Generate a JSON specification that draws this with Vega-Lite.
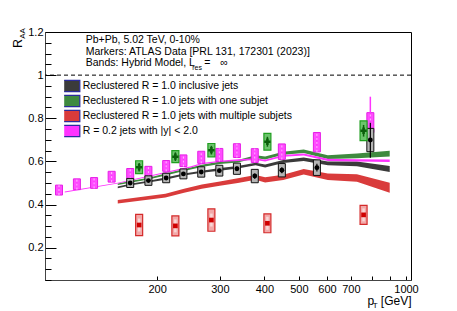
{
  "$schema": "https://vega.github.io/schema/vega-lite/v6.json",
  "width": 366,
  "height": 248,
  "autosize": {"type": "none"},
  "padding": {"left": 45, "top": 32, "right": 46, "bottom": 31},
  "background": "white",
  "config": {
    "view": {"stroke": "#000", "strokeWidth": 1},
    "font": "Liberation Sans",
    "axis": {"labelFont": "Liberation Sans", "titleFont": "Liberation Sans", "labelColor": "#000", "titleColor": "#000", "tickColor": "#000", "domainColor": "#333", "grid": false, "labelFontSize": 11, "titleFontWeight": "normal", "labelFlush": false, "labelOverlap": false}
  },
  "resolve": {"axis": {"x": "independent", "y": "independent"}},
  "datasets": {
    "model": [
      {"s": "Reclustered R = 1.0 multiple", "pT": 155, "lo": 0.405, "hi": 0.421},
      {"s": "Reclustered R = 1.0 multiple", "pT": 211, "lo": 0.432, "hi": 0.450},
      {"s": "Reclustered R = 1.0 multiple", "pT": 238, "lo": 0.455, "hi": 0.473},
      {"s": "Reclustered R = 1.0 multiple", "pT": 267, "lo": 0.473, "hi": 0.493},
      {"s": "Reclustered R = 1.0 multiple", "pT": 300, "lo": 0.487, "hi": 0.507},
      {"s": "Reclustered R = 1.0 multiple", "pT": 337, "lo": 0.500, "hi": 0.522},
      {"s": "Reclustered R = 1.0 multiple", "pT": 378, "lo": 0.515, "hi": 0.537},
      {"s": "Reclustered R = 1.0 multiple", "pT": 402, "lo": 0.502, "hi": 0.526},
      {"s": "Reclustered R = 1.0 multiple", "pT": 452, "lo": 0.514, "hi": 0.538},
      {"s": "Reclustered R = 1.0 multiple", "pT": 516, "lo": 0.539, "hi": 0.565},
      {"s": "Reclustered R = 1.0 multiple", "pT": 603, "lo": 0.514, "hi": 0.544},
      {"s": "Reclustered R = 1.0 multiple", "pT": 728, "lo": 0.506, "hi": 0.540},
      {"s": "Reclustered R = 1.0 multiple", "pT": 900, "lo": 0.455, "hi": 0.501},
      {"s": "Reclustered R = 1.0 inclusive", "pT": 155, "lo": 0.476, "hi": 0.484},
      {"s": "Reclustered R = 1.0 inclusive", "pT": 168, "lo": 0.488, "hi": 0.496},
      {"s": "Reclustered R = 1.0 inclusive", "pT": 189, "lo": 0.502, "hi": 0.510},
      {"s": "Reclustered R = 1.0 inclusive", "pT": 211, "lo": 0.515, "hi": 0.525},
      {"s": "Reclustered R = 1.0 inclusive", "pT": 238, "lo": 0.534, "hi": 0.544},
      {"s": "Reclustered R = 1.0 inclusive", "pT": 267, "lo": 0.547, "hi": 0.557},
      {"s": "Reclustered R = 1.0 inclusive", "pT": 300, "lo": 0.557, "hi": 0.569},
      {"s": "Reclustered R = 1.0 inclusive", "pT": 337, "lo": 0.567, "hi": 0.579},
      {"s": "Reclustered R = 1.0 inclusive", "pT": 378, "lo": 0.582, "hi": 0.594},
      {"s": "Reclustered R = 1.0 inclusive", "pT": 402, "lo": 0.572, "hi": 0.586},
      {"s": "Reclustered R = 1.0 inclusive", "pT": 452, "lo": 0.592, "hi": 0.606},
      {"s": "Reclustered R = 1.0 inclusive", "pT": 516, "lo": 0.602, "hi": 0.618},
      {"s": "Reclustered R = 1.0 inclusive", "pT": 603, "lo": 0.582, "hi": 0.600},
      {"s": "Reclustered R = 1.0 inclusive", "pT": 728, "lo": 0.577, "hi": 0.599},
      {"s": "Reclustered R = 1.0 inclusive", "pT": 900, "lo": 0.551, "hi": 0.579},
      {"s": "Reclustered R = 1.0 one", "pT": 155, "lo": 0.490, "hi": 0.498},
      {"s": "Reclustered R = 1.0 one", "pT": 168, "lo": 0.501, "hi": 0.509},
      {"s": "Reclustered R = 1.0 one", "pT": 189, "lo": 0.516, "hi": 0.524},
      {"s": "Reclustered R = 1.0 one", "pT": 211, "lo": 0.534, "hi": 0.544},
      {"s": "Reclustered R = 1.0 one", "pT": 238, "lo": 0.555, "hi": 0.565},
      {"s": "Reclustered R = 1.0 one", "pT": 267, "lo": 0.574, "hi": 0.584},
      {"s": "Reclustered R = 1.0 one", "pT": 300, "lo": 0.588, "hi": 0.600},
      {"s": "Reclustered R = 1.0 one", "pT": 337, "lo": 0.595, "hi": 0.607},
      {"s": "Reclustered R = 1.0 one", "pT": 378, "lo": 0.616, "hi": 0.628},
      {"s": "Reclustered R = 1.0 one", "pT": 402, "lo": 0.609, "hi": 0.623},
      {"s": "Reclustered R = 1.0 one", "pT": 452, "lo": 0.631, "hi": 0.645},
      {"s": "Reclustered R = 1.0 one", "pT": 516, "lo": 0.639, "hi": 0.655},
      {"s": "Reclustered R = 1.0 one", "pT": 603, "lo": 0.611, "hi": 0.629},
      {"s": "Reclustered R = 1.0 one", "pT": 728, "lo": 0.615, "hi": 0.637},
      {"s": "Reclustered R = 1.0 one", "pT": 900, "lo": 0.623, "hi": 0.649},
      {"s": "R = 0.2", "pT": 110, "lo": 0.456, "hi": 0.460},
      {"s": "R = 0.2", "pT": 155, "lo": 0.497, "hi": 0.501},
      {"s": "R = 0.2", "pT": 249, "lo": 0.572, "hi": 0.578},
      {"s": "R = 0.2", "pT": 267, "lo": 0.587, "hi": 0.593},
      {"s": "R = 0.2", "pT": 300, "lo": 0.597, "hi": 0.603},
      {"s": "R = 0.2", "pT": 337, "lo": 0.602, "hi": 0.610},
      {"s": "R = 0.2", "pT": 378, "lo": 0.606, "hi": 0.614},
      {"s": "R = 0.2", "pT": 402, "lo": 0.600, "hi": 0.608},
      {"s": "R = 0.2", "pT": 452, "lo": 0.622, "hi": 0.630},
      {"s": "R = 0.2", "pT": 516, "lo": 0.627, "hi": 0.637},
      {"s": "R = 0.2", "pT": 603, "lo": 0.602, "hi": 0.612},
      {"s": "R = 0.2", "pT": 728, "lo": 0.600, "hi": 0.610},
      {"s": "R = 0.2", "pT": 900, "lo": 0.597, "hi": 0.609}
    ],
    "pts": [
      {"s": "r02", "pT": 106, "v": 0.467, "sLo": 0.444, "sHi": 0.490, "eLo": 0.459, "eHi": 0.475},
      {"s": "r02", "pT": 119, "v": 0.494, "sLo": 0.469, "sHi": 0.519, "eLo": 0.486, "eHi": 0.502},
      {"s": "r02", "pT": 133, "v": 0.500, "sLo": 0.475, "sHi": 0.525, "eLo": 0.492, "eHi": 0.508},
      {"s": "r02", "pT": 149, "v": 0.529, "sLo": 0.504, "sHi": 0.554, "eLo": 0.521, "eHi": 0.537},
      {"s": "r02", "pT": 168, "v": 0.542, "sLo": 0.517, "sHi": 0.567, "eLo": 0.534, "eHi": 0.550},
      {"s": "r02", "pT": 189, "v": 0.552, "sLo": 0.527, "sHi": 0.577, "eLo": 0.544, "eHi": 0.560},
      {"s": "r02", "pT": 212, "v": 0.579, "sLo": 0.554, "sHi": 0.604, "eLo": 0.571, "eHi": 0.587},
      {"s": "r02", "pT": 237, "v": 0.603, "sLo": 0.576, "sHi": 0.630, "eLo": 0.594, "eHi": 0.612},
      {"s": "r02", "pT": 266, "v": 0.619, "sLo": 0.591, "sHi": 0.647, "eLo": 0.610, "eHi": 0.628},
      {"s": "r02", "pT": 299, "v": 0.630, "sLo": 0.600, "sHi": 0.660, "eLo": 0.620, "eHi": 0.640},
      {"s": "r02", "pT": 335, "v": 0.650, "sLo": 0.618, "sHi": 0.682, "eLo": 0.638, "eHi": 0.662},
      {"s": "r02", "pT": 376, "v": 0.627, "sLo": 0.595, "sHi": 0.659, "eLo": 0.614, "eHi": 0.640},
      {"s": "r02", "pT": 448, "v": 0.645, "sLo": 0.609, "sHi": 0.681, "eLo": 0.630, "eHi": 0.660},
      {"s": "r02", "pT": 562, "v": 0.689, "sLo": 0.644, "sHi": 0.734, "eLo": 0.665, "eHi": 0.713},
      {"s": "r02", "pT": 794, "v": 0.780, "sLo": 0.734, "sHi": 0.826, "eLo": 0.660, "eHi": 0.900},
      {"s": "incl", "pT": 168, "v": 0.500, "sLo": 0.479, "sHi": 0.521, "eLo": 0.492, "eHi": 0.508},
      {"s": "incl", "pT": 189, "v": 0.511, "sLo": 0.489, "sHi": 0.533, "eLo": 0.503, "eHi": 0.519},
      {"s": "incl", "pT": 212, "v": 0.523, "sLo": 0.501, "sHi": 0.545, "eLo": 0.515, "eHi": 0.531},
      {"s": "incl", "pT": 237, "v": 0.542, "sLo": 0.519, "sHi": 0.565, "eLo": 0.534, "eHi": 0.550},
      {"s": "incl", "pT": 266, "v": 0.551, "sLo": 0.527, "sHi": 0.575, "eLo": 0.542, "eHi": 0.560},
      {"s": "incl", "pT": 299, "v": 0.557, "sLo": 0.532, "sHi": 0.582, "eLo": 0.548, "eHi": 0.566},
      {"s": "incl", "pT": 335, "v": 0.566, "sLo": 0.540, "sHi": 0.592, "eLo": 0.556, "eHi": 0.576},
      {"s": "incl", "pT": 376, "v": 0.532, "sLo": 0.501, "sHi": 0.563, "eLo": 0.520, "eHi": 0.544},
      {"s": "incl", "pT": 448, "v": 0.559, "sLo": 0.528, "sHi": 0.590, "eLo": 0.545, "eHi": 0.573},
      {"s": "incl", "pT": 562, "v": 0.571, "sLo": 0.535, "sHi": 0.607, "eLo": 0.553, "eHi": 0.589},
      {"s": "incl", "pT": 794, "v": 0.699, "sLo": 0.645, "sHi": 0.753, "eLo": 0.617, "eHi": 0.779},
      {"s": "one", "pT": 178, "v": 0.573, "sLo": 0.543, "sHi": 0.603, "eLo": 0.553, "eHi": 0.593},
      {"s": "one", "pT": 225, "v": 0.622, "sLo": 0.594, "sHi": 0.650, "eLo": 0.602, "eHi": 0.642},
      {"s": "one", "pT": 284, "v": 0.652, "sLo": 0.621, "sHi": 0.683, "eLo": 0.632, "eHi": 0.672},
      {"s": "one", "pT": 408, "v": 0.691, "sLo": 0.652, "sHi": 0.730, "eLo": 0.668, "eHi": 0.714},
      {"s": "one", "pT": 760, "v": 0.742, "sLo": 0.696, "sHi": 0.788, "eLo": 0.715, "eHi": 0.769},
      {"s": "multi", "pT": 178, "v": 0.305, "sLo": 0.256, "sHi": 0.354, "eLo": 0.275, "eHi": 0.335},
      {"s": "multi", "pT": 225, "v": 0.301, "sLo": 0.255, "sHi": 0.347, "eLo": 0.271, "eHi": 0.331},
      {"s": "multi", "pT": 284, "v": 0.328, "sLo": 0.276, "sHi": 0.380, "eLo": 0.298, "eHi": 0.358},
      {"s": "multi", "pT": 408, "v": 0.313, "sLo": 0.269, "sHi": 0.357, "eLo": 0.283, "eHi": 0.343},
      {"s": "multi", "pT": 760, "v": 0.352, "sLo": 0.308, "sHi": 0.396, "eLo": 0.322, "eHi": 0.382}
    ]
  },
  "layer": [
    {
      "data": {"name": "model"},
      "mark": {"type": "area", "opacity": 1, "interpolate": "linear"},
      "encoding": {
        "x": {"field": "pT", "type": "quantitative", "scale": {"type": "log", "domain": [100, 1000], "nice": false}, "axis": null},
        "y": {"field": "lo", "type": "quantitative", "scale": {"domain": [0.05, 1.2], "nice": false, "zero": false}, "axis": null},
        "y2": {"field": "hi"},
        "color": {
          "field": "s", "type": "nominal",
          "scale": {"domain": ["Reclustered R = 1.0 inclusive", "Reclustered R = 1.0 one", "Reclustered R = 1.0 multiple", "R = 0.2"], "range": ["#3b3b3b", "#3f8a3f", "#d93b3b", "#ff33ff"]},
          "legend": {
            "title": null, "orient": "none", "legendX": 19.2, "legendY": 46.5, "padding": 0,
            "symbolType": "M-1.6,-1H1.6V1H-1.6Z", "symbolSize": 130, "symbolOpacity": 1,
            "symbolStrokeColor": "#2b2b9c", "symbolStrokeWidth": 1.2,
            "clipHeight": 15, "rowPadding": 0,
            "labelFont": "Liberation Sans", "labelFontSize": 10.5, "labelColor": "#000", "labelOffset": 5.5, "labelLimit": 400,
            "labelExpr": "datum.value == 'R = 0.2' ? 'R = 0.2 jets with |y| < 2.0' : datum.value == 'Reclustered R = 1.0 inclusive' ? 'Reclustered R = 1.0 inclusive jets' : datum.value == 'Reclustered R = 1.0 one' ? 'Reclustered R = 1.0 jets with one subjet' : 'Reclustered R = 1.0 jets with multiple subjets'",
            "encode": {"symbols": {"update": {"stroke": {"value": "#2b2b9c"}, "strokeWidth": {"value": 1.2}, "opacity": {"value": 1}}}}
          }
        }
      }
    },
    {
      "data": {"values": [{}]},
      "mark": {"type": "rule", "strokeDash": [4, 3], "color": "#000", "strokeWidth": 1},
      "encoding": {"y": {"datum": 1, "type": "quantitative", "scale": {"domain": [0.05, 1.2], "nice": false, "zero": false}, "axis": null}}
    },
    {
      "data": {"name": "pts"},
      "transform": [{"filter": "datum.s == 'r02'"}],
      "layer": [
        {"mark": {"type": "bar", "size": 7, "fill": "#ff4dff", "stroke": "#e61ee6", "strokeWidth": 1},
         "encoding": {"y": {"field": "sLo", "type": "quantitative", "axis": null}, "y2": {"field": "sHi"}}},
        {"mark": {"type": "rule", "color": "#ff33ff", "strokeWidth": 1.5},
         "encoding": {"y": {"field": "eLo", "type": "quantitative", "axis": null}, "y2": {"field": "eHi"}}},
        {"mark": {"type": "rule", "color": "#ffc0ff", "strokeWidth": 1, "strokeDash": [2, 2]},
         "encoding": {"y": {"field": "sLo", "type": "quantitative", "axis": null}, "y2": {"field": "sHi"}}}
      ],
      "encoding": {"x": {"field": "pT", "type": "quantitative", "axis": null}}
    },
    {
      "data": {"name": "pts"},
      "transform": [{"filter": "datum.s == 'incl'"}],
      "layer": [
        {"mark": {"type": "bar", "size": 7, "fill": "#b5b5b5", "stroke": "#111", "strokeWidth": 1},
         "encoding": {"y": {"field": "sLo", "type": "quantitative", "axis": null}, "y2": {"field": "sHi"}}},
        {"mark": {"type": "rule", "color": "#000", "strokeWidth": 1.2},
         "encoding": {"y": {"field": "eLo", "type": "quantitative", "axis": null}, "y2": {"field": "eHi"}}},
        {"mark": {"type": "point", "filled": true, "shape": "circle", "size": 24, "color": "#000", "opacity": 1},
         "encoding": {"y": {"field": "v", "type": "quantitative", "axis": null}}}
      ],
      "encoding": {"x": {"field": "pT", "type": "quantitative", "axis": null}}
    },
    {
      "data": {"name": "pts"},
      "transform": [{"filter": "datum.s == 'one'"}],
      "layer": [
        {"mark": {"type": "bar", "size": 7, "fill": "#6cc46c", "stroke": "#1f9e1f", "strokeWidth": 1.2},
         "encoding": {"y": {"field": "sLo", "type": "quantitative", "axis": null}, "y2": {"field": "sHi"}}},
        {"mark": {"type": "rule", "color": "#0b5e0b", "strokeWidth": 1.5},
         "encoding": {"y": {"field": "eLo", "type": "quantitative", "axis": null}, "y2": {"field": "eHi"}}},
        {"mark": {"type": "point", "filled": true, "shape": "cross", "size": 40, "color": "#0b5e0b", "opacity": 1},
         "encoding": {"y": {"field": "v", "type": "quantitative", "axis": null}}}
      ],
      "encoding": {"x": {"field": "pT", "type": "quantitative", "axis": null}}
    },
    {
      "data": {"name": "pts"},
      "transform": [{"filter": "datum.s == 'multi'"}],
      "layer": [
        {"mark": {"type": "bar", "size": 7, "fill": "#f2a8a8", "stroke": "#d42a2a", "strokeWidth": 1.2},
         "encoding": {"y": {"field": "sLo", "type": "quantitative", "axis": null}, "y2": {"field": "sHi"}}},
        {"mark": {"type": "rule", "color": "#f9d6d6", "strokeWidth": 2.5},
         "encoding": {"y": {"field": "eLo", "type": "quantitative", "axis": null}, "y2": {"field": "eHi"}}},
        {"mark": {"type": "point", "filled": true, "shape": "square", "size": 22, "color": "#d00000", "opacity": 1},
         "encoding": {"y": {"field": "v", "type": "quantitative", "axis": null}}}
      ],
      "encoding": {"x": {"field": "pT", "type": "quantitative", "axis": null}}
    },
    {
      "data": {"values": [{}]},
      "mark": {"type": "text", "text": "Pb+Pb, 5.02 TeV, 0-10%", "align": "left", "baseline": "middle", "font": "Liberation Sans", "fontSize": 10.5, "color": "#000"},
      "encoding": {
        "x": {"datum": 126, "type": "quantitative", "scale": {"type": "log", "domain": [100, 1000], "nice": false},
          "axis": {"orient": "bottom", "values": [200, 300, 400, 500, 600, 700, 800, 900, 1000], "format": "d",
            "labelExpr": "datum.value == 800 || datum.value == 900 ? '' : datum.label",
            "tickSize": -4, "labelPadding": 7, "domainColor": "#444",
            "title": "p\u00a0\u00a0[GeV]", "titleFontSize": 12, "titleAlign": "right", "titleX": 366, "titleY": 24, "titleBaseline": "alphabetic"}},
        "y": {"datum": 1.163, "type": "quantitative", "scale": {"domain": [0.05, 1.2], "nice": false, "zero": false},
          "axis": {"orient": "left", "values": [0.2, 0.4, 0.6, 0.8, 1, 1.2], "format": ".1~f", "tickSize": -11, "labelPadding": 13, "domainColor": "#444",
            "title": "R", "titleFontSize": 12.5, "titleAngle": 270, "titleX": -28, "titleY": 11, "titleAlign": "center", "titleBaseline": "middle"}}
      }
    },
    {
      "data": {"values": [{}]},
      "mark": {"type": "text", "text": "Markers: ATLAS Data [PRL 131, 172301 (2023)]", "align": "left", "baseline": "middle", "font": "Liberation Sans", "fontSize": 10.5, "color": "#000"},
      "encoding": {
        "x": {"datum": 126, "type": "quantitative",
          "axis": {"orient": "bottom", "values": [100], "ticks": false, "labels": false, "domain": false,
            "title": "T", "titleFontSize": 8, "titleX": 329.7, "titleY": 27, "titleAlign": "center", "titleBaseline": "alphabetic"}},
        "y": {"datum": 1.109, "type": "quantitative",
          "axis": {"orient": "left", "values": [0.05, 0.1, 0.15, 0.25, 0.3, 0.35, 0.45, 0.5, 0.55, 0.65, 0.7, 0.75, 0.85, 0.9, 0.95, 1.05, 1.1, 1.15], "tickSize": -6, "labels": false, "domain": false,
            "title": "AA", "titleFontSize": 8, "titleAngle": 270, "titleX": -22.5, "titleY": 1, "titleAlign": "center", "titleBaseline": "middle"}}
      }
    },
    {
      "data": {"values": [{}]},
      "mark": {"type": "text", "text": "Bands: Hybrid Model, L", "align": "left", "baseline": "middle", "font": "Liberation Sans", "fontSize": 10.5, "color": "#000"},
      "encoding": {"x": {"datum": 126, "type": "quantitative", "axis": null}, "y": {"datum": 1.055, "type": "quantitative", "axis": null}}
    },
    {
      "data": {"values": [{}]},
      "mark": {"type": "text", "text": "res", "align": "left", "baseline": "middle", "font": "Liberation Sans", "fontSize": 7, "color": "#000"},
      "encoding": {"x": {"datum": 251, "type": "quantitative", "axis": null}, "y": {"datum": 1.032, "type": "quantitative", "axis": null}}
    },
    {
      "data": {"values": [{}]},
      "mark": {"type": "text", "text": "=", "align": "left", "baseline": "middle", "font": "Liberation Sans", "fontSize": 10.5, "color": "#000"},
      "encoding": {"x": {"datum": 271, "type": "quantitative", "axis": null}, "y": {"datum": 1.055, "type": "quantitative", "axis": null}}
    },
    {
      "data": {"values": [{}]},
      "mark": {"type": "text", "text": "∞", "align": "left", "baseline": "middle", "font": "Liberation Sans", "fontSize": 10.5, "color": "#000"},
      "encoding": {"x": {"datum": 301, "type": "quantitative", "axis": null}, "y": {"datum": 1.055, "type": "quantitative", "axis": null}}
    }
  ]
}
